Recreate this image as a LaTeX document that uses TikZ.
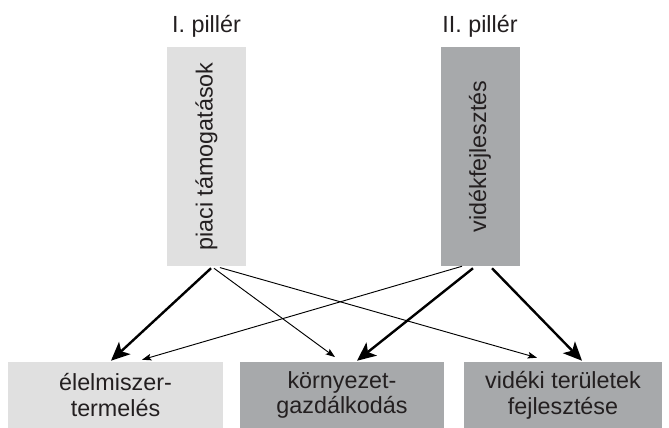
\documentclass[tikz,border=0pt]{standalone}
\usepackage{fontspec}
\setmainfont{Liberation Sans}
\usepackage{tikz}
\usetikzlibrary{positioning,arrows.meta}

\definecolor{lightgr}{HTML}{E0E0E0}
\definecolor{darkgr}{HTML}{A7A9AB}
\definecolor{txtgr}{HTML}{231F20}

\tikzset{
    pillar/.style={
        minimum width=59.25pt,
        minimum height=164.25pt,
        inner sep=0pt,
        text=txtgr,
        font=\fontsize{17.5}{19.3}\selectfont
    },
    goal/.style={
        minimum height=49.5pt,
        inner sep=0pt,
        align=center,
        text=txtgr,
        font=\fontsize{17.5}{19.3}\selectfont
    },
    title/.style={
        inner sep=0pt,
        text=txtgr,
        font=\fontsize{17.5}{19.3}\selectfont
    },
    strong/.style={line width=1.8pt, -{Stealth[length=14pt,width=12.5pt,inset=3.5pt]}},
    weak/.style={line width=0.7pt, -{Stealth[length=7pt,width=5pt,inset=1.5pt]}}
}

\begin{document}
\begin{tikzpicture}[x=0.75pt,y=-0.75pt]

    \useasboundingbox (0,0) rectangle (669,428);

    % Pillars
    \node[pillar,
        fill=lightgr
    ] (piaci) at (206.5,156.5) {\rotatebox{90}{piaci támogatások}};

    \node[pillar,
        fill=darkgr
    ] (videk) at (480,156.5) {\rotatebox{90}{vidékfejlesztés}};

    \node[title, above=6.75pt of piaci] (pill1) {I. pillér};
    \node[title, above=6.75pt of videk] (pill2) {II. pillér};

    % Goals
    \node[goal,
        fill=lightgr,
        minimum width=161.25pt
    ] (elel) at (115.5,395) {élelmiszer-\\termelés};

    \node[goal,
        fill=darkgr,
        minimum width=153pt
    ] (korny) at (342,395) {környezet-\\gazdálkodás};

    \node[goal,
        fill=darkgr,
        minimum width=148.5pt
    ] (vidter) at (563,395) {vidéki területek\\fejlesztése};

    % Arrows from the first pillar
    \draw[strong] ([xshift=3.4pt,yshift=-1.5pt]piaci.south) -- ([xshift=-3.4pt,yshift=0.75pt]elel.north);
    \draw[weak] ([xshift=5.6pt,yshift=-1.5pt]piaci.south) -- ([xshift=-5.25pt,yshift=3.5pt]korny.north);
    \draw[weak] ([xshift=10.1pt,yshift=-1pt]piaci.south) -- ([xshift=-19.5pt,yshift=3pt]vidter.north);

    % Arrows from the second pillar
    \draw[weak] ([xshift=-13.5pt]videk.south) -- ([xshift=19.9pt,yshift=1.5pt]elel.north);
    \draw[strong] ([xshift=-5.25pt,yshift=-1.5pt]videk.south) -- ([xshift=11.25pt,yshift=0.75pt]korny.north);
    \draw[strong] ([xshift=9pt,yshift=-1.5pt]videk.south) -- ([xshift=14.25pt,yshift=0.75pt]vidter.north);

\end{tikzpicture}
\end{document}
